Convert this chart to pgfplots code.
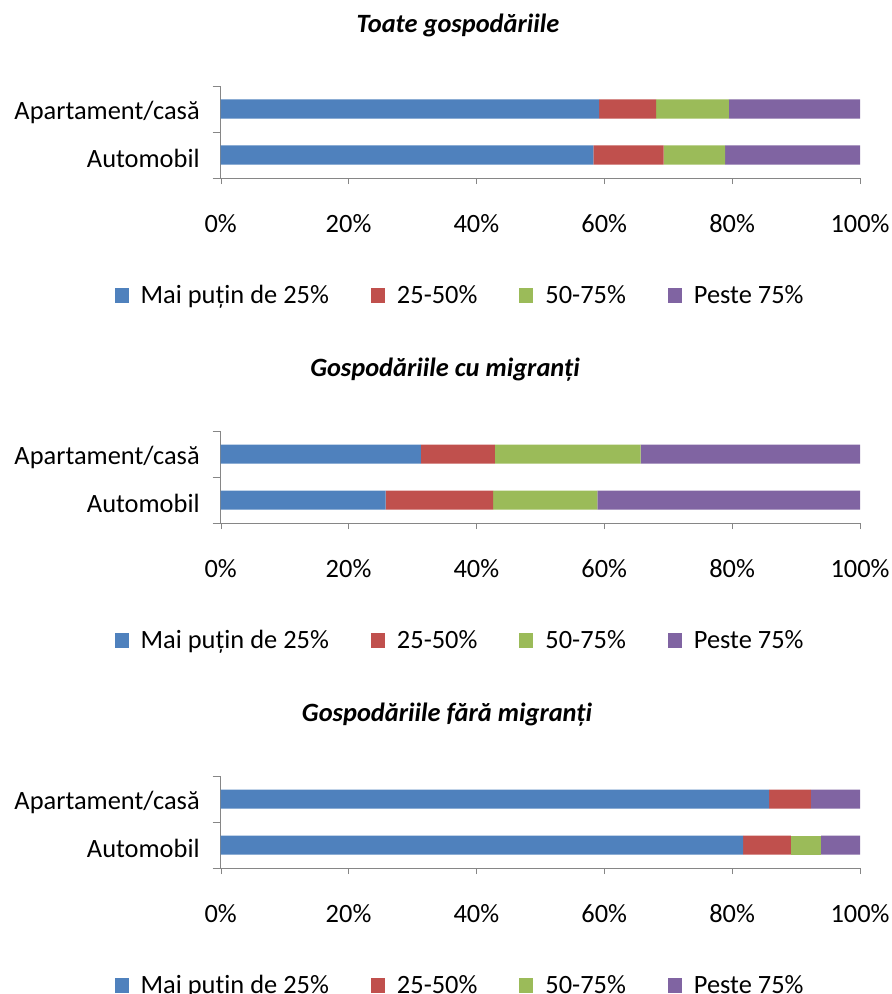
\documentclass[border=0pt]{standalone}
\usepackage{fontspec}
\setmainfont{Carlito}
\usepackage{pgfplots}
\pgfplotsset{compat=1.18}
\definecolor{cblue}{HTML}{4F81BD}
\definecolor{cred}{HTML}{C0504D}
\definecolor{cgreen}{HTML}{9BBB59}
\definecolor{cpurple}{HTML}{8064A2}
\definecolor{axgray}{HTML}{868686}
\pgfplotsset{
  panel/.style={
    xbar stacked, scale only axis, width=319.65pt, height=46pt,
    xmin=0, xmax=100, ymin=-0.5, ymax=1.5,
    bar width=9.5pt,
    font=\fontsize{13.2}{15}\selectfont,
    ytick={0,1}, yticklabels={Automobil,Apartament/casă},
    xtick={0,20,40,60,80,100}, xticklabels={0\%,20\%,40\%,60\%,80\%,100\%},
    axis x line*=bottom, axis y line*=left,
    axis line style={draw=axgray,-},
    tick align=outside,
    xtick style={draw=axgray},
    major tick length=3pt,
    ytick style={draw=none},
    extra y ticks={-0.5,0.5,1.5}, extra y tick labels={},
    extra y tick style={ytick style={draw=axgray}, major tick length=4pt},
    xticklabel style={yshift=-11.5pt},
    yticklabel style={xshift=-4pt, yshift=-1.5pt},
    legend style={at={(0.376,-1.283)}, anchor=center, draw=none, legend columns=4,
      /tikz/every odd column/.append style={column sep=4pt},
      /tikz/every even column/.append style={column sep=19pt},
      font=\fontsize{13.2}{15}\selectfont},
    legend image code/.code={\fill[##1] (0pt,-3.5pt) rectangle (7pt,4pt);},
  }
}
\begin{document}
\begin{tikzpicture}
\path[use as bounding box] (0,0) rectangle (445.5pt,-497pt);
\node[font=\fontsize{13.2}{15}\selectfont\bfseries\itshape] at (229pt,-12.5pt) {Toate gospodăriile};
\node[font=\fontsize{13.2}{15}\selectfont\bfseries\itshape] at (222.5pt,-185pt) {Gospodăriile cu migranți};
\node[font=\fontsize{13.2}{15}\selectfont\bfseries\itshape] at (223.5pt,-357.5pt) {Gospodăriile fără migranți};

\begin{axis}[panel, at={(110.35pt,-89pt)}, anchor=south west]
\addplot[fill=cblue, draw=none] coordinates {(58.3,0) (59.2,1)};
\addplot[fill=cred, draw=none] coordinates {(11.0,0) (8.9,1)};
\addplot[fill=cgreen, draw=none] coordinates {(9.6,0) (11.4,1)};
\addplot[fill=cpurple, draw=none] coordinates {(21.1,0) (20.5,1)};
\legend{Mai puțin de 25\%, 25-50\%, 50-75\%, Peste 75\%}
\end{axis}

\begin{axis}[panel, at={(110.35pt,-261.5pt)}, anchor=south west]
\addplot[fill=cblue, draw=none] coordinates {(25.8,0) (31.3,1)};
\addplot[fill=cred, draw=none] coordinates {(16.8,0) (11.6,1)};
\addplot[fill=cgreen, draw=none] coordinates {(16.3,0) (22.8,1)};
\addplot[fill=cpurple, draw=none] coordinates {(41.1,0) (34.3,1)};
\legend{Mai puțin de 25\%, 25-50\%, 50-75\%, Peste 75\%}
\end{axis}

\begin{axis}[panel, at={(110.35pt,-434pt)}, anchor=south west]
\addplot[fill=cblue, draw=none] coordinates {(81.7,0) (85.8,1)};
\addplot[fill=cred, draw=none] coordinates {(7.5,0) (6.5,1)};
\addplot[fill=cgreen, draw=none] coordinates {(4.7,0) (0,1)};
\addplot[fill=cpurple, draw=none] coordinates {(6.1,0) (7.7,1)};
\legend{Mai puțin de 25\%, 25-50\%, 50-75\%, Peste 75\%}
\end{axis}
\end{tikzpicture}
\end{document}
